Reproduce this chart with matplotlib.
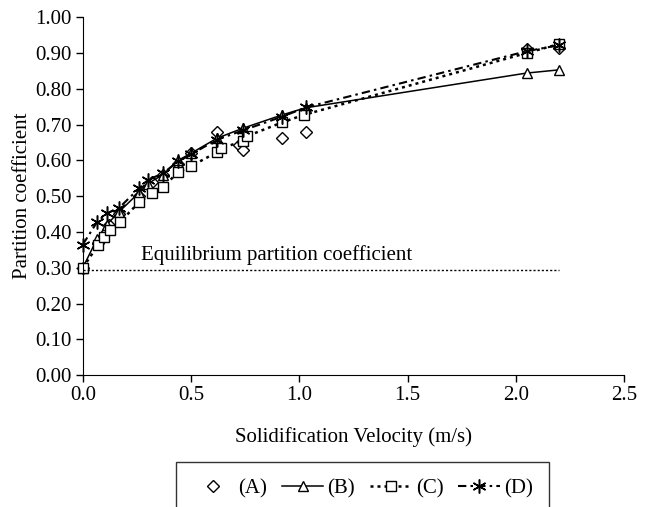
import numpy as np
import matplotlib
matplotlib.use('Agg')
import matplotlib.pyplot as plt

plt.rcParams['font.family'] = ['Liberation Serif', 'DejaVu Serif']
plt.rcParams['font.size'] = 15

# measured / computed partition coefficients vs solidification velocity
x_A = [0.0, 0.07, 0.12, 0.165, 0.26, 0.32, 0.37, 0.44, 0.50, 0.62, 0.72, 0.74, 0.92, 1.03, 2.05, 2.20]
y_A = [0.30, 0.37, 0.42, 0.45, 0.50, 0.54, 0.56, 0.59, 0.62, 0.678, 0.642, 0.628, 0.662, 0.680, 0.912, 0.915]

x_B = [0.0, 0.065, 0.11, 0.165, 0.26, 0.30, 0.37, 0.44, 0.50, 0.62, 0.74, 0.92, 1.03, 2.05, 2.20]
y_B = [0.30, 0.38, 0.42, 0.455, 0.51, 0.535, 0.56, 0.60, 0.62, 0.662, 0.69, 0.727, 0.747, 0.844, 0.853]

x_C = [0.0, 0.07, 0.10, 0.125, 0.17, 0.26, 0.32, 0.37, 0.44, 0.50, 0.62, 0.64, 0.74, 0.76, 0.92, 1.02, 2.05, 2.20]
y_C = [0.30, 0.363, 0.386, 0.405, 0.427, 0.483, 0.508, 0.525, 0.567, 0.584, 0.623, 0.635, 0.653, 0.668, 0.706, 0.727, 0.900, 0.925]

x_D = [0.0, 0.065, 0.11, 0.165, 0.26, 0.30, 0.37, 0.44, 0.50, 0.62, 0.74, 0.92, 1.03, 2.05, 2.20]
y_D = [0.365, 0.427, 0.452, 0.466, 0.522, 0.545, 0.564, 0.597, 0.617, 0.658, 0.684, 0.722, 0.748, 0.905, 0.922]

k_eq = 0.295
k_eq_xmax = 2.2

fig = plt.figure(figsize=(6.52, 5.07), dpi=100)
ax = fig.add_axes([0.127, 0.260, 0.830, 0.706])

mk = dict(markerfacecolor='white', markeredgecolor='black', markeredgewidth=1.0,
          color='black', clip_on=False)
ax.plot(x_A, y_A, linestyle='none', marker='D', markersize=6, label='(A)', **mk)
ax.plot(x_B, y_B, linestyle='-', linewidth=1.1, marker='^', markersize=7.5, label='(B)', **mk)
ax.plot(x_C, y_C, linestyle=(0, (1.2, 1.6)), linewidth=1.8, marker='s', markersize=6.5, label='(C)', **mk)
ax.plot(x_D, y_D, linestyle=(0, (4, 2, 1.2, 2)), linewidth=1.5, marker=(6, 2, 0), markersize=10,
        label='(D)', color='black', markeredgecolor='black', markeredgewidth=1.1, clip_on=False)

ax.plot([0, k_eq_xmax], [k_eq, k_eq], color='black', linestyle=(0, (1.5, 1.5)), linewidth=1.0)
ax.text(0.27, k_eq + 0.014, 'Equilibrium partition coefficient', ha='left', va='bottom')

ax.set_xlim(0, 2.5)
ax.set_ylim(0, 1.0)
ax.set_xticks(np.arange(0, 2.51, 0.5))
ax.set_xticklabels(['%.1f' % v for v in np.arange(0, 2.51, 0.5)])
ax.set_yticks(np.arange(0, 1.01, 0.1))
ax.set_yticklabels(['%.2f' % v for v in np.arange(0, 1.01, 0.1)])
ax.tick_params(direction='out', length=5, width=1.0, pad=3)
ax.spines['top'].set_visible(False)
ax.spines['right'].set_visible(False)
ax.set_xlabel('Solidification Velocity (m/s)', labelpad=16)
ax.set_ylabel('Partition coefficient', labelpad=2)

leg = fig.legend(loc='upper center', bbox_to_anchor=(0.556, 1 - 462 / 507), ncol=4,
                 frameon=True, fancybox=False, edgecolor='black', handlelength=2.0,
                 columnspacing=0.7, handletextpad=0.2, borderpad=0.8, borderaxespad=0)
leg.get_frame().set_linewidth(1.0)

fig.savefig('out.png', dpi=100)
